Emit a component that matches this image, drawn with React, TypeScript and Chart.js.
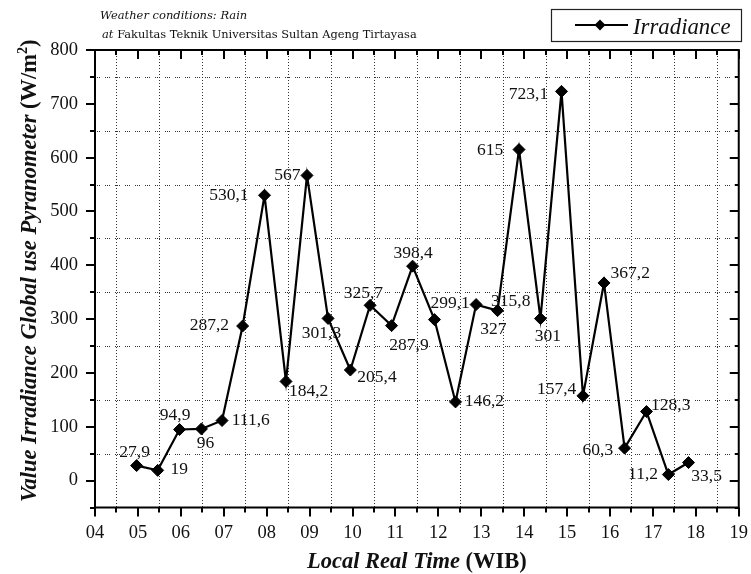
import { useEffect, useRef } from 'react';
import { Chart, registerables } from 'chart.js';

Chart.register(...registerables);

// ---------- data ----------
const timeHours = [
  4.97, 5.46, 5.97, 6.48, 6.96, 7.44, 7.95, 8.45, 8.94, 9.43, 9.95, 10.41, 10.91, 11.4,
  11.91, 12.4, 12.88, 13.38, 13.88, 14.38, 14.87, 15.37, 15.86, 16.34, 16.85, 17.36, 17.83,
];
const irradiance = [
  27.9, 19, 94.9, 96, 111.6, 287.2, 530.1, 184.2, 567, 301.3, 205.4, 325.7, 287.9, 398.4,
  299.1, 146.2, 327, 315.8, 615, 301, 723.1, 157.4, 367.2, 60.3, 128.3, 11.2, 33.5,
];
const xTickValues = [4, 5, 6, 7, 8, 9, 10, 11, 12, 13, 14, 15, 16, 17, 18, 19];
const xTickLabels = ['04', '05', '06', '07', '08', '09', '10', '11', '12', '13', '14', '15', '16', '17', '18', '19'];
const xMinorValues = [4.5, 5.5, 6.5, 7.5, 8.5, 9.5, 10.5, 11.5, 12.5, 13.5, 14.5, 15.5, 16.5, 17.5, 18.5];
const yTickValues = [0, 100, 200, 300, 400, 500, 600, 700, 800];
const yMinorValues = [-50, 50, 150, 250, 350, 450, 550, 650, 750];
const yGridValues = [50, 150, 250, 350, 450, 550, 650, 750];

const seriesName = 'Irradiance';
const noteLine1 = 'Weather conditions: Rain';
const notePrefix = 'at';
const noteLine2 = 'Fakultas Teknik Universitas Sultan Ageng Tirtayasa';
const xTitleItalic = 'Local Real Time';
const xTitleUnit = '(WIB)';
const yTitleItalic = 'Value Irradiance Global use Pyranometer';
const yTitleUnitA = '(W/m';
const yTitleUnitSup = '2';
const yTitleUnitB = ')';

// label placement (offset of the label centre from its point, in px)
const labelOffsets: [number, number][] = [
  [-2, -13], [21.7, -0.5], [-4.4, -14.6], [4, 14.3], [28.7, -0.6], [-33.2, -1.1],
  [-35.7, 0.5], [22.7, 10.2], [-19.6, -0.4], [-6.6, 14.8], [26.6, 7.4], [-6.7, -12.3],
  [17.5, 19.3], [0.5, -12.9], [15.7, -16.4], [28.9, -0.3], [17.3, 25], [13.2, -9],
  [-28.8, 0.4], [7.4, 18.1], [-33, 2.8], [-26.3, -6], [26.2, -10], [-26.7, 1.8],
  [24.3, -6.6], [-25.3, 0.3], [18.1, 14],
];

const SERIF = '"Liberation Serif", "Times New Roman", serif';
const NOTE_SERIF = '"DejaVu Serif", serif';

const decorPlugin = {
  id: 'decor',
  beforeDatasetsDraw(chart: any) {
    const { ctx, chartArea: a, scales } = chart;
    const x = scales.x;
    const y = scales.y;
    ctx.save();
    ctx.strokeStyle = '#333';
    ctx.lineWidth = 1;
    ctx.setLineDash([1, 2]);
    for (const v of xMinorValues) {
      const px = Math.round(x.getPixelForValue(v)) + 0.5;
      ctx.beginPath();
      ctx.moveTo(px, a.top);
      ctx.lineTo(px, a.bottom);
      ctx.stroke();
    }
    ctx.setLineDash([1, 1, 1, 1, 1, 5]);
    for (const v of yGridValues) {
      const py = Math.round(y.getPixelForValue(v)) + 0.5;
      ctx.beginPath();
      ctx.moveTo(a.left, py);
      ctx.lineTo(a.right, py);
      ctx.stroke();
    }
    ctx.restore();
  },
  afterDatasetsDraw(chart: any) {
    const { ctx, chartArea: a, scales } = chart;
    const x = scales.x;
    const y = scales.y;
    ctx.save();
    ctx.setLineDash([]);
    ctx.strokeStyle = '#000';
    ctx.lineWidth = 2;
    const line = (x1: number, y1: number, x2: number, y2: number) => {
      ctx.beginPath();
      ctx.moveTo(x1, y1);
      ctx.lineTo(x2, y2);
      ctx.stroke();
    };
    for (const v of xTickValues) {
      const px = Math.round(x.getPixelForValue(v));
      line(px, a.bottom, px, a.bottom + 9);
      line(px, a.top, px, a.top + 9);
    }
    for (const v of xMinorValues) {
      const px = Math.round(x.getPixelForValue(v));
      line(px, a.bottom, px, a.bottom + 5);
      line(px, a.top, px, a.top + 5);
    }
    for (const v of yTickValues) {
      const py = Math.round(y.getPixelForValue(v));
      line(a.left - 9, py, a.left, py);
      line(a.right - 9, py, a.right, py);
    }
    for (const v of yMinorValues) {
      const py = Math.round(y.getPixelForValue(v));
      line(a.left - 5, py, a.left, py);
      line(a.right - 4, py, a.right, py);
    }
    ctx.lineWidth = 2;
    ctx.strokeRect(a.left, a.top, a.right - a.left, a.bottom - a.top);

    const meta = chart.getDatasetMeta(0);
    ctx.fillStyle = '#111';
    ctx.font = `17.5px ${SERIF}`;
    ctx.textAlign = 'center';
    ctx.textBaseline = 'middle';
    meta.data.forEach((pt: any, i: number) => {
      const [dx, dy] = labelOffsets[i];
      const txt = String(irradiance[i]).replace('.', ',');
      ctx.fillText(txt, pt.x + dx, pt.y + dy);
    });
    ctx.restore();
  },
  afterDraw(chart: any) {
    const { ctx, chartArea: a } = chart;
    ctx.save();
    ctx.fillStyle = '#111';
    ctx.textAlign = 'left';
    ctx.textBaseline = 'alphabetic';

    // notes top-left
    ctx.font = `italic 11.5px ${NOTE_SERIF}`;
    ctx.fillText(noteLine1, 100, 19.4);
    ctx.fillText(notePrefix, 102, 38.3);
    const pw = ctx.measureText(notePrefix + ' ').width;
    ctx.font = `11.4px ${NOTE_SERIF}`;
    ctx.fillText(noteLine2, 102 + pw, 38.3);

    // legend
    ctx.strokeStyle = '#222';
    ctx.lineWidth = 1.2;
    ctx.strokeRect(551.5, 9.5, 190, 32);
    ctx.strokeStyle = '#000';
    ctx.lineWidth = 2;
    ctx.beginPath();
    ctx.moveTo(575, 25);
    ctx.lineTo(628, 25);
    ctx.stroke();
    ctx.fillStyle = '#000';
    ctx.beginPath();
    ctx.moveTo(594.5, 25);
    ctx.lineTo(600, 19.5);
    ctx.lineTo(605.5, 25);
    ctx.lineTo(600, 30.5);
    ctx.closePath();
    ctx.fill();
    ctx.fillStyle = '#111';
    ctx.font = `italic 22.8px ${SERIF}`;
    ctx.fillText(seriesName, 633, 34);

    // x title
    const XF = 22.5;
    ctx.font = `bold italic ${XF}px ${SERIF}`;
    const w1 = ctx.measureText(xTitleItalic + ' ').width;
    ctx.font = `bold ${XF}px ${SERIF}`;
    const w2 = ctx.measureText(xTitleUnit).width;
    const cx = (a.left + a.right) / 2;
    const sx = cx - (w1 + w2) / 2;
    ctx.font = `bold italic ${XF}px ${SERIF}`;
    ctx.fillText(xTitleItalic + ' ', sx, 568);
    ctx.font = `bold ${XF}px ${SERIF}`;
    ctx.fillText(xTitleUnit, sx + w1, 568);

    // y title (rotated)
    const YF = 22.5;
    ctx.translate(36, (a.top + a.bottom) / 2 - 8);
    ctx.rotate(-Math.PI / 2);
    ctx.font = `bold italic ${YF}px ${SERIF}`;
    const t1 = ctx.measureText(yTitleItalic + ' ').width;
    ctx.font = `bold ${YF}px ${SERIF}`;
    const t2 = ctx.measureText(yTitleUnitA).width;
    ctx.font = `bold 14px ${SERIF}`;
    const t3 = ctx.measureText(yTitleUnitSup).width;
    ctx.font = `bold ${YF}px ${SERIF}`;
    const t4 = ctx.measureText(yTitleUnitB).width;
    let p = -(t1 + t2 + t3 + t4) / 2;
    ctx.font = `bold italic ${YF}px ${SERIF}`;
    ctx.fillText(yTitleItalic + ' ', p, 0);
    p += t1;
    ctx.font = `bold ${YF}px ${SERIF}`;
    ctx.fillText(yTitleUnitA, p, 0);
    p += t2;
    ctx.font = `bold 14px ${SERIF}`;
    ctx.fillText(yTitleUnitSup, p, -9);
    p += t3;
    ctx.font = `bold ${YF}px ${SERIF}`;
    ctx.fillText(yTitleUnitB, p, 0);
    ctx.restore();
  },
};

export default function App() {
  const ref = useRef<HTMLCanvasElement>(null);
  useEffect(() => {
    if (!ref.current) return;
    const chart = new Chart(ref.current, {
      type: 'line',
      data: {
        datasets: [
          {
            label: seriesName,
            data: timeHours.map((t, i) => ({ x: t, y: irradiance[i] })),
            borderColor: '#000',
            backgroundColor: '#000',
            borderWidth: 2.2,
            pointStyle: 'rectRot',
            pointRadius: 6,
            pointBorderWidth: 1,
            pointBackgroundColor: '#000',
            pointBorderColor: '#000',
            tension: 0,
          },
        ],
      },
      options: {
        responsive: false,
        animation: false,
        layout: { padding: { top: 50, right: 10, left: 0, bottom: 0 } },
        plugins: { legend: { display: false }, tooltip: { enabled: false } },
        scales: {
          x: {
            type: 'linear',
            min: 4,
            max: 19,
            afterBuildTicks: (s: any) => {
              s.ticks = xTickValues.map((v) => ({ value: v }));
            },
            afterFit: (s: any) => {
              s.height = 66.5;
            },
            ticks: {
              autoSkip: false,
              maxRotation: 0,
              padding: 3,
              color: '#111',
              font: { family: SERIF, size: 18.5 },
              callback: (_v: any, i: number) => xTickLabels[i],
            },
            grid: { display: true, drawOnChartArea: false, color: 'rgba(0,0,0,0)', tickLength: 12 },
            border: { display: false },
          },
          y: {
            type: 'linear',
            min: -50,
            max: 800,
            afterBuildTicks: (s: any) => {
              s.ticks = yTickValues.map((v) => ({ value: v }));
            },
            afterFit: (s: any) => {
              s.width = 95;
            },
            ticks: {
              autoSkip: false,
              padding: 3,
              color: '#111',
              font: { family: SERIF, size: 18.5 },
              callback: (v: any) => String(v),
            },
            grid: { display: true, drawOnChartArea: false, color: 'rgba(0,0,0,0)', tickLength: 14 },
            border: { display: false },
          },
        },
      },
      plugins: [decorPlugin],
    } as any);
    return () => chart.destroy();
  }, []);
  return (
    <div style={{ position: 'absolute', left: 0, top: 0, width: 751, height: 574, background: '#fff' }}>
      <canvas ref={ref} width={751} height={574} style={{ display: 'block' }} />
    </div>
  );
}
